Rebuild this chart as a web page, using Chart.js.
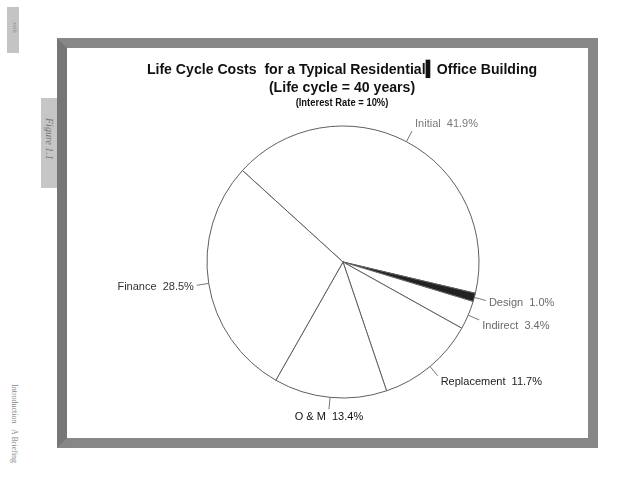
<!DOCTYPE html>
<html>
<head>
<meta charset="utf-8">
<script src="https://cdn.jsdelivr.net/npm/chart.js@4/dist/chart.umd.min.js"></script>
<style>
  html, body { margin:0; padding:0; background:#fff; }
  #page { position:relative; width:638px; height:493px; overflow:hidden; background:#fff; }
  .frame { position:absolute; left:57px; top:38px; width:521px; height:390px;
           border:10px solid #878787; border-left-color:#767676; }
  .tab1 { position:absolute; left:7px; top:7px; width:12px; height:46px; background:#c4c4c4; }
  .tab2 { position:absolute; left:41px; top:98px; width:16px; height:90px; background:#c6c6c6; }
  .vtext { position:absolute; transform-origin:0 0; transform:rotate(90deg); white-space:nowrap;
           font-family:"Liberation Serif","DejaVu Serif",serif; color:#8a8a8a; }
  .title { position:absolute; left:0; width:684px; text-align:center; white-space:nowrap;
           font-family:"Liberation Sans",Arial,sans-serif; font-weight:bold; color:#111;
           transform:scaleX(0.94); transform-origin:342px 0; }
  canvas { position:absolute; left:0; top:0; }
</style>
</head>
<body>
<div id="page">
  <div class="tab1"></div>
  <div class="vtext" style="left:18px;top:22px;font-size:6px;">xviii</div>
  <div class="tab2"></div>
  <div class="vtext" style="left:55px;top:118px;font-size:10px;color:#777;font-style:italic;">Figure 1.1</div>
  <div class="vtext" style="left:19px;top:384px;font-size:8px;color:#888;">Introduction &nbsp; A Briefing</div>
  <div class="frame"></div>
  <canvas id="c" width="638" height="493"></canvas>
  <div class="title" style="top:60px;font-size:15px;">Life Cycle Costs&nbsp; for a Typical Residential&#x258D;Office Building</div>
  <div class="title" style="top:78px;font-size:15px;">(Life cycle = 40 years)</div>
  <div class="title" style="top:97px;font-size:10px;">(Interest Rate = 10%)</div>
</div>
<script>
const categories = ['Initial', 'Design', 'Indirect', 'Replacement', 'O & M', 'Finance'];
const shares = [41.9, 1.0, 3.4, 11.7, 13.4, 28.5];
const sliceColors = ['#ffffff', '#222222', '#ffffff', '#ffffff', '#ffffff', '#ffffff'];
const labelColors = ['#7a7a7a', '#6a6a6a', '#6a6a6a', '#222222', '#111111', '#333333'];

const outsideLabels = {
  id: 'outsideLabels',
  afterDatasetsDraw(chart) {
    const ctx = chart.ctx;
    const meta = chart.getDatasetMeta(0);
    ctx.save();
    ctx.font = '11px "Liberation Sans", Arial, sans-serif';
    meta.data.forEach((arc, i) => {
      const p = arc.getProps(['x', 'y', 'startAngle', 'endAngle', 'outerRadius'], true);
      const mid = (p.startAngle + p.endAngle) / 2;
      const c = Math.cos(mid), s = Math.sin(mid);
      const r0 = p.outerRadius, r1 = p.outerRadius + 12;
      const x0 = p.x + c * r0, y0 = p.y + s * r0;
      const x1 = p.x + c * r1, y1 = p.y + s * r1;
      ctx.strokeStyle = '#777';
      ctx.lineWidth = 1;
      ctx.beginPath(); ctx.moveTo(x0, y0); ctx.lineTo(x1, y1); ctx.stroke();
      const txt = categories[i] + '  ' + shares[i].toFixed(1) + '%';
      let tx = x1, ty = y1 + s * 8;
      if (Math.abs(c) < 0.3) { ctx.textAlign = 'center'; }
      else if (c > 0) { ctx.textAlign = 'left'; tx += 3; }
      else { ctx.textAlign = 'right'; tx -= 3; }
      if (s > 0.3 && s < 0.6) ty += 3;
      ctx.textBaseline = 'middle';
      ctx.fillStyle = labelColors[i];
      ctx.fillText(txt, tx, ty);
    });
    ctx.restore();
  }
};

new Chart(document.getElementById('c'), {
  type: 'pie',
  data: {
    labels: categories,
    datasets: [{
      data: shares,
      backgroundColor: sliceColors,
      borderColor: '#5e5e5e',
      borderWidth: 1
    }]
  },
  options: {
    responsive: false,
    animation: false,
    rotation: -47.7,
    radius: 136,
    layout: { padding: { left: 48, right: 0, top: 31, bottom: 0 } },
    plugins: { legend: { display: false }, tooltip: { enabled: false }, title: { display: false } }
  },
  plugins: [outsideLabels]
});
</script>
</body>
</html>
